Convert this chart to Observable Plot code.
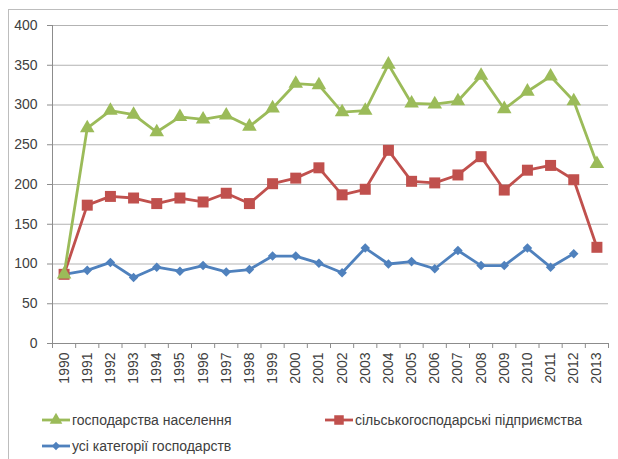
<!DOCTYPE html>
<html>
<head>
<meta charset="utf-8">
<script src="https://cdn.jsdelivr.net/npm/d3@7"></script>
<script src="https://cdn.jsdelivr.net/npm/@observablehq/plot@0.6"></script>
<style>
  html, body { margin: 0; padding: 0; background: #fff; }
  body { width: 618px; height: 459px; position: relative; overflow: hidden;
         font-family: "Liberation Sans", Arial, sans-serif; color: #404040; }
  #frame { position: absolute; left: 8px; top: 9px; width: 620px; height: 460px;
           border-top: 1px solid #bdbdbd; border-left: 1px solid #bdbdbd; }
  #chart { position: absolute; left: 0; top: 0; }
  .legend-item { position: absolute; display: flex; align-items: center;
                 font-size: 14px; white-space: nowrap; color: #404040; }
  .legend-item svg { display: block; margin-right: 2px; }
</style>
</head>
<body>
<div id="frame"></div>
<div id="chart"></div>
<div id="legend"></div>
<script>
// Years on the horizontal axis
const years = [1990, 1991, 1992, 1993, 1994, 1995, 1996, 1997, 1998, 1999, 2000, 2001,
               2002, 2003, 2004, 2005, 2006, 2007, 2008, 2009, 2010, 2011, 2012, 2013];

// господарства населення
const households = [87, 271, 293, 288, 266, 285, 282, 287, 273, 296, 327, 325,
                    291, 293, 351, 302, 301, 305, 337, 295, 317, 336, 305, 226];

// сільськогосподарські підприємства
const enterprises = [87, 174, 185, 183, 176, 183, 178, 189, 176, 201, 208, 221,
                     187, 194, 243, 204, 202, 212, 235, 193, 218, 224, 206, 121];

// усі категорії господарств (no value for 2013)
const allCategories = [87, 92, 102, 83, 96, 91, 98, 90, 93, 110, 110, 101,
                       89, 120, 100, 103, 94, 117, 98, 98, 120, 96, 113, null];

// Value axis ticks
const yTicks = [0, 50, 100, 150, 200, 250, 300, 350, 400];

const series = [
  {name: "усі категорії господарств", values: allCategories, color: "#4F81BD", symbol: "diamond2", r: 4.3},
  {name: "сільськогосподарські підприємства", values: enterprises, color: "#C0504D", symbol: "square", r: 6.2},
  {name: "господарства населення", values: households, color: "#9BBB59", symbol: "triangle", r: 5.4}
];

const toRows = (values) => years
  .map((year, i) => ({year, value: values[i]}))
  .filter(d => d.value != null);

// Each year occupies one category slot; ticks sit on the slot boundaries
const xDomain = [years[0] - 0.5, years[years.length - 1] + 0.5];
const boundaries = [...years.map(y => y - 0.5), years[years.length - 1] + 0.5];

const axisColor = "#8c8c8c";
const gridColor = "#b3b3b3";

const seriesMarks = series.flatMap(s => {
  const data = toRows(s.values);
  return [
    Plot.line(data, {x: "year", y: "value", stroke: s.color, strokeWidth: 2.8, strokeLinejoin: "round"}),
    Plot.dot(data, {x: "year", y: "value", fill: s.color, stroke: "none", symbol: s.symbol, r: s.r})
  ];
});

const chart = Plot.plot({
  width: 618,
  height: 400,
  marginLeft: 52,
  marginRight: 10,
  marginTop: 25,
  marginBottom: 57,
  style: {fontFamily: "'Liberation Sans', Arial, sans-serif", fontSize: "14px", color: "#404040", background: "transparent"},
  x: {domain: xDomain, axis: null},
  y: {domain: [0, 400], axis: null},
  marks: [
    Plot.gridY(yTicks.filter(t => t > 0), {stroke: gridColor, strokeOpacity: 1}),
    Plot.axisY({ticks: yTicks, tickSize: 5, tickPadding: 10, stroke: axisColor, fill: "#404040", fontSize: 14, tickFormat: d => String(d), label: null}),
    Plot.ruleX([xDomain[0]], {stroke: axisColor}),
    Plot.ruleY([0], {stroke: axisColor}),
    Plot.axisX({ticks: boundaries, tickSize: 5, stroke: axisColor, tickFormat: () => "", label: null}),
    Plot.axisX({ticks: years, tickSize: 0, tickPadding: 9, tickRotate: -90, fill: "#404040", fontSize: 14, tickFormat: d => String(d), label: null}),
    ...seriesMarks
  ]
});
document.getElementById("chart").appendChild(chart);

// Legend below the plot
const legendLayout = [
  {name: "господарства населення", left: 42, top: 411},
  {name: "сільськогосподарські підприємства", left: 325, top: 411},
  {name: "усі категорії господарств", left: 42, top: 437}
];
const legend = document.getElementById("legend");
for (const item of legendLayout) {
  const s = series.find(d => d.name === item.name);
  const div = document.createElement("div");
  div.className = "legend-item";
  div.style.left = item.left + "px";
  div.style.top = item.top + "px";
  const sym = d3.symbol(
    s.symbol === "triangle" ? d3.symbolTriangle : s.symbol === "square" ? d3.symbolSquare : d3.symbolDiamond2,
    Math.PI * s.r * s.r * 0.75
  )();
  div.innerHTML =
    `<svg width="28" height="18" viewBox="0 0 28 18">` +
    `<line x1="0" x2="28" y1="9" y2="9" stroke="${s.color}" stroke-width="2.8"/>` +
    `<path d="${sym}" transform="translate(14,9)" fill="${s.color}"/></svg>` +
    `<span>${s.name}</span>`;
  legend.appendChild(div);
}
</script>
</body>
</html>
